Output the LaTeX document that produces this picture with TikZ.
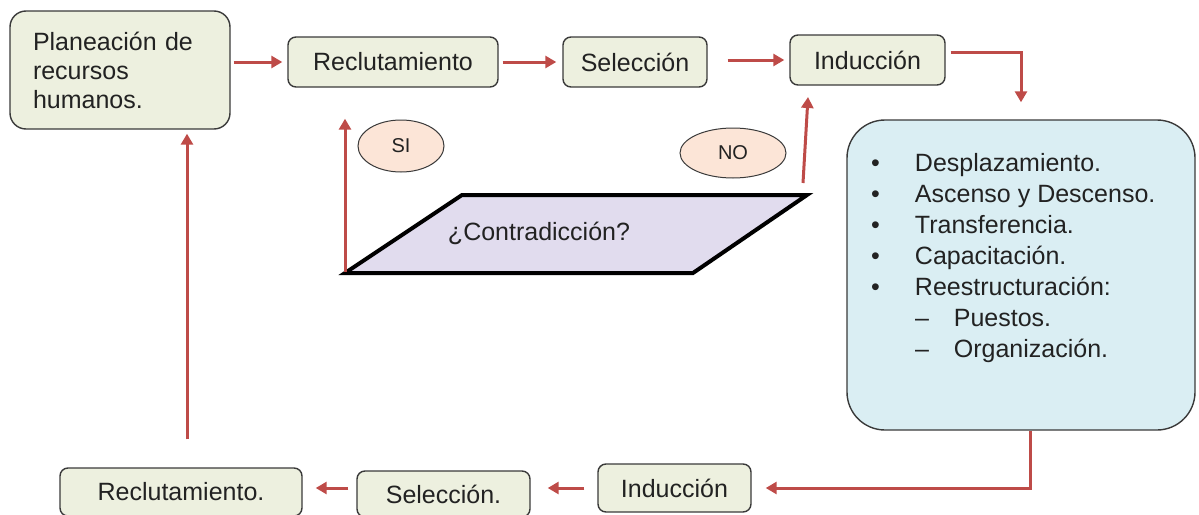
\documentclass[tikz,border=0pt]{standalone}
\usepackage{fontspec}
\setmainfont{Liberation Sans}
\usetikzlibrary{arrows.meta,shapes.geometric}
\definecolor{boxfill}{HTML}{EDF0DF}
\definecolor{boxline}{HTML}{3A3A3A}
\definecolor{bigfill}{HTML}{DAEEF3}
\definecolor{arrowred}{HTML}{BE4B48}
\definecolor{parafill}{HTML}{E1DCEE}
\definecolor{ellfill}{HTML}{FCE5D7}
\definecolor{txt}{HTML}{222222}
\begin{document}
\begin{tikzpicture}[x=1pt,y=-1pt,
  every node/.style={text=txt},
  box/.style={draw=boxline, line width=1.4pt, fill=boxfill, rounded corners=8pt, inner sep=0pt,
    font=\fontsize{25}{30}\selectfont},
  arr/.style={draw=arrowred, line width=3pt, -{Triangle[length=11pt,width=12pt]}},
  lab/.style={ellipse, draw=boxline, line width=1pt, fill=ellfill, inner sep=0pt,
    font=\fontsize{20}{22}\selectfont},
  ]
\useasboundingbox (0,0) rectangle (1199,514);
% top row
\node[box, rounded corners=16pt, minimum width=220pt, minimum height=118pt,
      text width=174pt, align=left, font=\fontsize{25}{29}\selectfont] (plan) at (120,70)
      {Planeación de\\recursos\\humanos.};
\node[box, minimum width=210pt, minimum height=50pt] (recl) at (393,62) {Reclutamiento};
\node[box, minimum width=144pt, minimum height=50pt] (sel) at (635,62) {Selección};
\node[box, minimum width=155pt, minimum height=50pt] (ind) at (867.5,60) {Inducción};
% big box
\node[draw=boxline, line width=1.4pt, fill=bigfill, rounded corners=38pt, inner sep=0pt,
      minimum width=348pt, minimum height=310pt] (big) at (1021,275)
 {\parbox[c][250pt][t]{300pt}{\noindent\fontsize{25}{31}\selectfont
  \begin{tabular}{@{}p{44pt}@{}l@{}}
  \textbullet & Desplazamiento.\\
  \textbullet & Ascenso y Descenso.\\
  \textbullet & Transferencia.\\
  \textbullet & Capacitación.\\
  \textbullet & Reestructuración:\\
   & –\hspace{25pt}Puestos.\\
   & –\hspace{25pt}Organización.
  \end{tabular}}};
% bottom row
\node[box, minimum width=153pt, minimum height=48pt] (ind2) at (674.5,488) {Inducción};
\node[box, minimum width=173pt, minimum height=46pt] (sel2) at (443.5,494) {Selección.};
\node[box, minimum width=242pt, minimum height=48pt] (recl2) at (181,492) {Reclutamiento.};
% decision
\coordinate (ptl) at (462,195);
\coordinate (ptr) at (807,195);
\coordinate (pbr) at (693,273);
\coordinate (pbl) at (345,273);
\draw[line width=4pt, fill=parafill, line join=miter] (ptl) -- (ptr) -- (pbr) -- (pbl) -- cycle;
\node[font=\fontsize{25}{30}\selectfont] (q) at (539,233) {¿Contradicción?};
\node[lab, minimum width=86pt, minimum height=52pt] (si) at (401,146) {SI};
\node[lab, minimum width=106pt, minimum height=50pt] (no) at (733,153) {NO};
% connectors
\draw[arr, shorten <=3pt, shorten >=5pt] (plan.east |- recl.west) -- (recl.west);
\draw[arr, shorten <=4pt, shorten >=6pt] (recl.east) -- (sel.west);
\draw[arr, shorten <=20pt, shorten >=5pt] (sel.east |- ind.west) -- (ind.west);
\draw[arr, shorten >=17pt] ([shift={(5,-8)}]ind.east) -| (big.north);
\draw[arr, shorten >=14pt] ([xshift=9pt]big.south) |- (ind2.east);
\draw[arr, shorten <=13pt, shorten >=17pt] (ind2.west) -- (ind2.west -| sel2.east);
\draw[arr, shorten <=8pt, shorten >=13pt] (sel2.west |- ind2.west) -- (ind2.west -| recl2.east);
\draw[arr, shorten <=28pt, shorten >=4pt] ([xshift=6pt]recl2.north) -- ([xshift=6pt]recl2.north |- plan.south);
\draw[arr, shorten <=1pt, shorten >=31pt] (pbl) -- (pbl |- recl.south);
\coordinate (nofoot) at (803,183);
\coordinate (notip) at (808,97);
\draw[arr] (nofoot) -- (notip);
\end{tikzpicture}
\end{document}
